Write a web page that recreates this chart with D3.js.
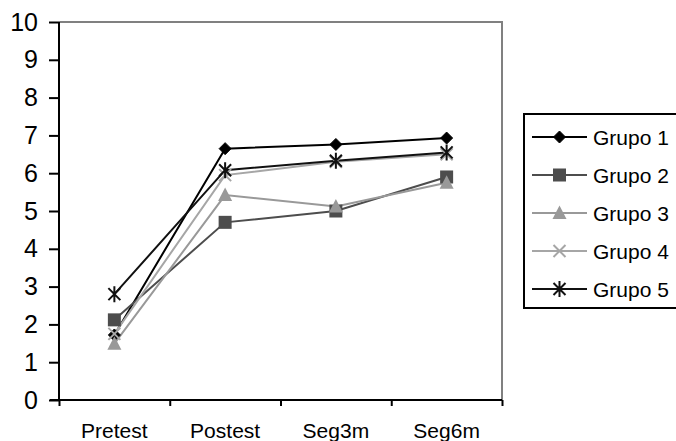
<!DOCTYPE html>
<html><head><meta charset="utf-8">
<script src="https://cdn.jsdelivr.net/npm/d3@7"></script>
<style>body{margin:0;background:#fff}svg{display:block;font-family:"Liberation Sans",Arial,sans-serif}</style>
</head><body><svg id="c" width="676" height="441"></svg>
<script>
const categories = ["Pretest","Postest","Seg3m","Seg6m"];
const seriesNames = ["Grupo 1","Grupo 2","Grupo 3","Grupo 4","Grupo 5"];
const grupo1 = [1.72, 6.65, 6.76, 6.93];
const grupo2 = [2.12, 4.7, 5.0, 5.9];
const grupo3 = [1.49, 5.42, 5.12, 5.75];
const grupo4 = [1.75, 5.95, 6.3, 6.5];
const grupo5 = [2.8, 6.08, 6.33, 6.55];
const yTicks = [0,1,2,3,4,5,6,7,8,9,10];

const seriesValues = [grupo1, grupo2, grupo3, grupo4, grupo5];
const colors = ["#000000","#4d4d4d","#999999","#a6a6a6","#111111"];
const markers = ["diamond","square","triangle","x","star"];

const svg = d3.select("#c");
const L = 59, R = 502, T = 22, B = 400;
const x = d3.scaleBand().domain(categories).range([L, R]).padding(0);
const y = d3.scaleLinear().domain([0, 10]).range([B, T]);

// plot area border (top & right)
svg.append("path").attr("d", `M${L},${T}H${R}V${B}`).attr("fill","none").attr("stroke","#808080").attr("stroke-width",2);

// y axis
const ya = svg.append("g").attr("transform", `translate(${L},0)`)
  .call(d3.axisLeft(y).tickValues(yTicks).tickSize(10).tickPadding(11).tickFormat(d3.format("d")));
ya.select(".domain").attr("stroke","#000").attr("stroke-width",2).attr("d", `M0,${T}V${B}`);
ya.selectAll(".tick line").attr("stroke","#000").attr("stroke-width",2);
ya.selectAll("text").attr("font-size", 25).attr("font-family","Liberation Sans, Arial, sans-serif").attr("fill","#000");

// x axis boundaries ticks
const xb = d3.scaleLinear().domain([0, categories.length]).range([L, R]);
const xa2 = svg.append("g").attr("transform", `translate(0,${B})`)
  .call(d3.axisBottom(xb).tickValues(d3.range(categories.length + 1)).tickSize(6).tickFormat(""));
xa2.select(".domain").attr("stroke","#000").attr("stroke-width",2).attr("d", `M${L-9},0H${R}`);
xa2.selectAll(".tick line").attr("stroke","#000").attr("stroke-width",2);

// x labels
const xa = svg.append("g").attr("transform", `translate(0,${B})`)
  .call(d3.axisBottom(x).tickSize(0).tickPadding(23));
xa.select(".domain").remove();
xa.selectAll("text").attr("font-size", 21).attr("font-family","Liberation Sans, Arial, sans-serif").attr("fill","#000");

function drawMarker(g, type, color) {
  if (type === "diamond") {
    g.append("path").attr("d","M0,-6L6,0L0,6L-6,0Z").attr("fill",color).attr("stroke",color).attr("stroke-width",1);
  } else if (type === "square") {
    g.append("rect").attr("x",-6.5).attr("y",-6.5).attr("width",13).attr("height",13).attr("fill",color);
  } else if (type === "triangle") {
    g.append("path").attr("d","M0,-7.5L7,6L-7,6Z").attr("fill",color);
  } else if (type === "x") {
    g.append("path").attr("d","M-6,-6L6,6M-6,6L6,-6").attr("stroke",color).attr("stroke-width",2).attr("fill","none");
  } else if (type === "star") {
    g.append("path").attr("d","M-6,-6L6,6M-6,6L6,-6M0,-8V8").attr("stroke",color).attr("stroke-width",2).attr("fill","none");
  }
}

const line = d3.line().x((d,i) => x(categories[i]) + x.bandwidth()/2).y(d => y(d));
seriesValues.forEach((vals, s) => {
  svg.append("path").datum(vals).attr("d", line).attr("fill","none").attr("stroke", colors[s]).attr("stroke-width", 2);
});
seriesValues.forEach((vals, s) => {
  vals.forEach((v, i) => {
    const g = svg.append("g").attr("transform", `translate(${x(categories[i]) + x.bandwidth()/2},${y(v)})`);
    drawMarker(g, markers[s], colors[s]);
  });
});

// legend
const lg = svg.append("g");
lg.append("rect").attr("x",524).attr("y",114).attr("width",160).attr("height",194).attr("fill","#fff").attr("stroke","#000").attr("stroke-width",2);
seriesNames.forEach((name, s) => {
  const cy = 137 + 38*s;
  lg.append("line").attr("x1",532).attr("x2",587).attr("y1",cy).attr("y2",cy).attr("stroke",colors[s]).attr("stroke-width",2);
  const g = lg.append("g").attr("transform", `translate(559.5,${cy})`);
  drawMarker(g, markers[s], colors[s]);
  lg.append("text").attr("x",593).attr("y",cy).attr("dy","0.36em").attr("font-size",21).attr("fill","#000").text(name);
});
</script></body></html>
